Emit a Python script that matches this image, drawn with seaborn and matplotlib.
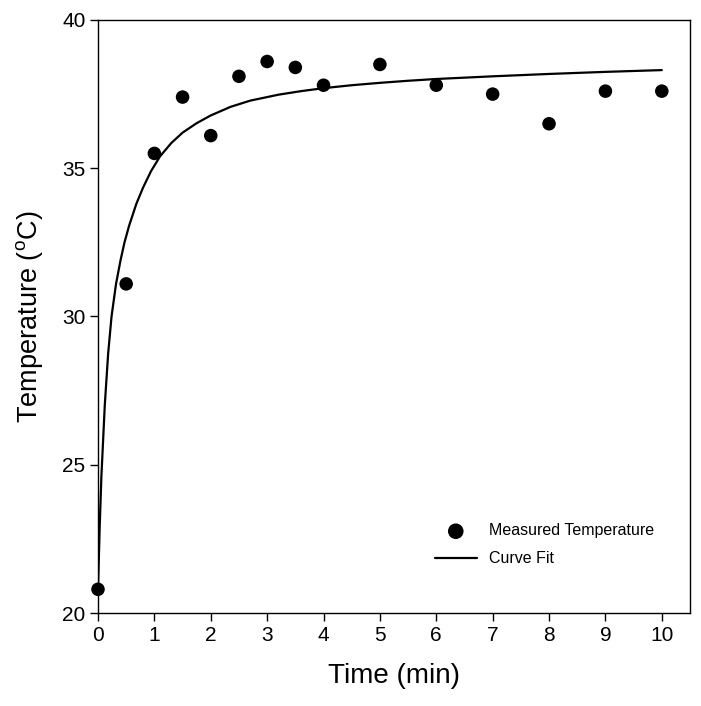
import pandas as pd
import matplotlib.pyplot as plt
import seaborn as sns

sns.set_style("ticks")
plt.rcParams['font.family'] = ['Liberation Sans', 'DejaVu Sans']
plt.rcParams['mathtext.fontset'] = 'custom'
plt.rcParams['mathtext.rm'] = 'Liberation Sans'
plt.rcParams['text.color'] = 'black'
plt.rcParams['axes.labelcolor'] = 'black'
plt.rcParams['xtick.color'] = 'black'
plt.rcParams['ytick.color'] = 'black'

# measured temperature
time_min = [0, 0.5, 1, 1.5, 2, 2.5, 3, 3.5, 4, 5, 6, 7, 8, 9, 10]
temp_c = [20.8, 31.1, 35.5, 37.4, 36.1, 38.1, 38.6, 38.4, 37.8, 38.5, 37.8, 37.5, 36.5, 37.6, 37.6]

# curve fit
fit_time = [0, 0.03, 0.06, 0.12, 0.18, 0.24, 0.32, 0.4, 0.47, 0.55, 0.68, 0.8, 0.94,
            1.1, 1.3, 1.5, 1.75, 2.0, 2.35, 2.7, 3.2, 3.6, 4.0, 4.5, 5.0, 5.5, 6.0,
            7.0, 8.0, 9.0, 10.0]
fit_temp = [20.8, 22.9, 24.6, 27.0, 28.75, 30.0, 31.1, 31.9, 32.5, 33.05, 33.8, 34.35, 34.9,
            35.4, 35.85, 36.2, 36.52, 36.78, 37.07, 37.28, 37.48, 37.6, 37.7, 37.8, 37.88, 37.95, 38.01,
            38.1, 38.18, 38.25, 38.31]

meas = pd.DataFrame({'t': time_min, 'T': temp_c})
fit = pd.DataFrame({'t': fit_time, 'T': fit_temp})

f = plt.figure(figsize=(7.01, 7.06), dpi=100)
ax = f.add_axes([0.1398, 0.1317, 0.8445, 0.84])

sns.lineplot(x='t', y='T', data=fit, color='black', lw=1.6, ax=ax, label='Curve Fit', zorder=2)
sns.scatterplot(x='t', y='T', data=meas, color='black', s=95, edgecolor='none', ax=ax,
                label='Measured Temperature', zorder=3, clip_on=False)

ax.set_xlim(0, 10.5)
ax.set_ylim(20, 40)
ax.set_xticks(range(0, 11))
ax.set_yticks([20, 25, 30, 35, 40])
ax.tick_params(axis='both', labelsize=15, length=6, width=1, color='black', pad=3)
for s in ax.spines.values():
    s.set_linewidth(1)
    s.set_color('black')

ax.set_xlabel('Time (min)', fontsize=20, labelpad=13)
ax.set_ylabel(r'Temperature ($\mathrm{^{o}}$C)', fontsize=19.5, labelpad=12)

h, l = ax.get_legend_handles_labels()
order = [l.index('Measured Temperature'), l.index('Curve Fit')]
ax.legend([h[i] for i in order], [l[i] for i in order], loc='center left',
          bbox_to_anchor=(0.545, 0.115), frameon=False, fontsize=11.5,
          handlelength=2.6, handletextpad=0.8, labelspacing=0.8, markerscale=1.15)

f.savefig('out.png', dpi=100)
